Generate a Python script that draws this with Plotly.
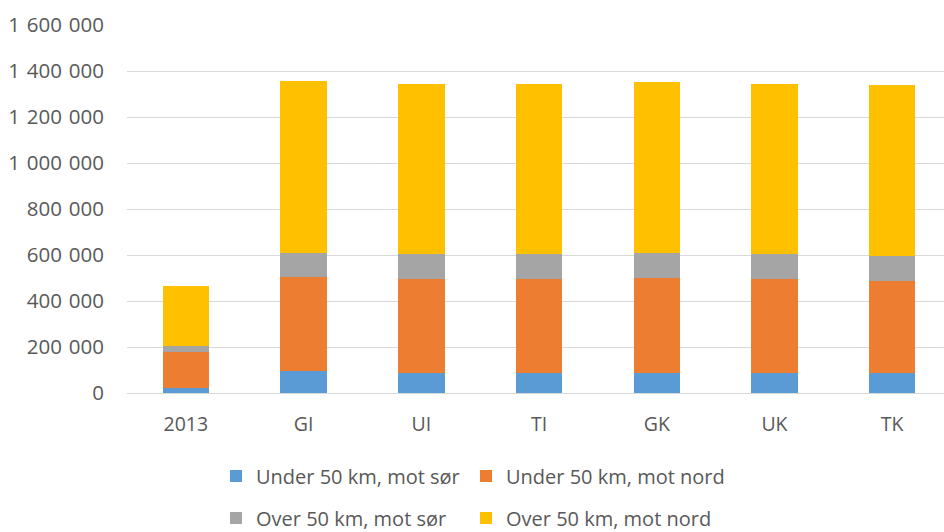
import plotly.graph_objects as go

# Scenarios along the x axis
categories = ["2013", "GI", "UI", "TI", "GK", "UK", "TK"]

# Stacked components per scenario
under50_sor = [20000, 95000, 86000, 86000, 87000, 86000, 86000]
under50_nord = [158000, 410000, 408000, 408000, 414000, 408000, 401000]
over50_sor = [26000, 105000, 110000, 110000, 109000, 110000, 109000]
over50_nord = [263000, 747000, 741000, 741000, 742000, 741000, 741000]

series_names = [
    "Under 50 km, mot sør",
    "Under 50 km, mot nord",
    "Over 50 km, mot sør",
    "Over 50 km, mot nord",
]
series_values = [under50_sor, under50_nord, over50_sor, over50_nord]
series_colors = ["#5B9BD5", "#ED7D31", "#A5A5A5", "#FFC000"]

# One legend box per entry, laid out as a 2 x 2 grid under the plot
legend_ids = ["legend", "legend2", "legend3", "legend4"]
legend_x = [216, 466, 216, 466]
legend_y = [476, 476, 518, 518]

y_ticks = list(range(0, 1600001, 200000))

FONT = "Open Sans"
TEXT_COLOR = "#595959"

fig = go.Figure()
for name, vals, color, lg in zip(series_names, series_values, series_colors, legend_ids):
    fig.add_trace(
        go.Bar(
            x=categories,
            y=vals,
            name=name,
            marker=dict(color=color, line=dict(width=0)),
            width=0.395,
            legend=lg,
            showlegend=True,
        )
    )

legend_layout = {}
for lg, lx, ly in zip(legend_ids, legend_x, legend_y):
    legend_layout[lg] = dict(
        orientation="h",
        xref="container",
        yref="container",
        xanchor="left",
        yanchor="middle",
        x=lx / 944,
        y=1 - ly / 532,
        font=dict(family=FONT, size=20, color=TEXT_COLOR),
        bgcolor="rgba(0,0,0,0)",
    )

fig.update_layout(
    width=944,
    height=532,
    barmode="stack",
    showlegend=True,
    separators=",\u2004",
    paper_bgcolor="white",
    plot_bgcolor="white",
    margin=dict(l=127, r=0, t=25, b=139),
    font=dict(family=FONT, size=19, color=TEXT_COLOR),
    xaxis=dict(
        range=[-0.5, 6.44],
        showgrid=False,
        showline=True,
        linecolor="#D9D9D9",
        linewidth=1,
        ticks="",
        tickfont=dict(family=FONT, size=19.5, color=TEXT_COLOR),
        ticklabelstandoff=14,
        zeroline=False,
    ),
    yaxis=dict(
        range=[0, 1600000],
        tickvals=y_ticks,
        tickformat=",d",
        showgrid=True,
        gridcolor="#D9D9D9",
        gridwidth=1,
        zeroline=False,
        showline=False,
        ticks="",
        tickfont=dict(family=FONT, size=20.5, color=TEXT_COLOR),
        ticklabelstandoff=22,
    ),
    **legend_layout,
)

fig.write_html("out.html")
